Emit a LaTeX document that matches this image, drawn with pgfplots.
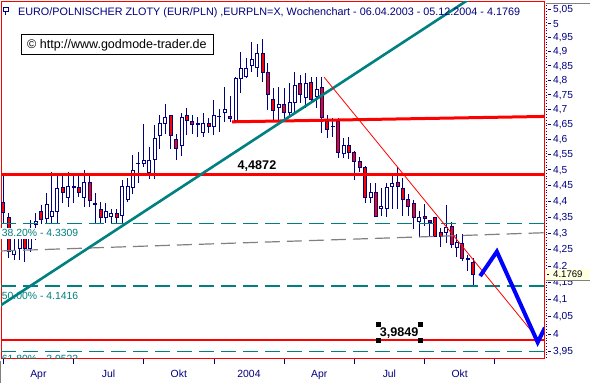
\documentclass[border=0pt]{standalone}
\usepackage{pgfplots}
\usepackage{pgfplotstable}
\pgfplotsset{compat=1.18}
\usepackage{fontspec}
\setmainfont{Liberation Sans}
\definecolor{navy}{HTML}{000080}
\definecolor{tealc}{HTML}{008080}
\definecolor{redc}{HTML}{FF0000}
\definecolor{bluec}{HTML}{0000FF}
\definecolor{grayc}{HTML}{808080}
\definecolor{tipbg}{HTML}{FFFFE1}
\newcommand\fs[1]{\fontsize{#1}{#1}\selectfont}
\newcommand\tk{\rule[0.3em]{3bp}{0.8bp}\hspace{2bp}}

\pgfplotstableread{
i o h l c
0 4.399 4.486 4.334 4.365
1 4.352 4.365 4.226 4.244
2 4.235 4.287 4.220 4.250
3 4.256 4.290 4.220 4.284
4 4.284 4.290 4.214 4.256
5 4.256 4.343 4.244 4.284
6 4.330 4.365 4.281 4.337
7 4.368 4.390 4.330 4.343
8 4.346 4.428 4.330 4.390
9 4.355 4.495 4.330 4.368
10 4.368 4.492 4.330 4.441
11 4.444 4.492 4.396 4.428
12 4.415 4.495 4.384 4.447
13 4.444 4.492 4.396 4.447
14 4.444 4.486 4.415 4.428
15 4.415 4.502 4.384 4.460
16 4.460 4.492 4.384 4.403
17 4.396 4.428 4.334 4.390
18 4.377 4.399 4.334 4.349
19 4.352 4.396 4.334 4.368
20 4.355 4.377 4.334 4.362
21 4.362 4.377 4.334 4.349
22 4.358 4.469 4.330 4.447
23 4.406 4.476 4.399 4.450
24 4.444 4.550 4.425 4.499
25 4.521 4.560 4.460 4.524
26 4.524 4.653 4.511 4.531
27 4.492 4.577 4.473 4.534
28 4.537 4.650 4.473 4.603
29 4.616 4.683 4.570 4.656
30 4.656 4.720 4.620 4.673
31 4.680 4.683 4.570 4.616
32 4.600 4.620 4.534 4.573
33 4.583 4.690 4.547 4.673
34 4.680 4.707 4.616 4.663
35 4.660 4.683 4.620 4.650
36 4.650 4.677 4.610 4.656
37 4.623 4.690 4.610 4.653
38 4.656 4.673 4.623 4.643
39 4.643 4.734 4.616 4.680
40 4.678 4.703 4.626 4.679
41 4.690 4.778 4.660 4.703
42 4.677 4.748 4.660 4.670
43 4.666 4.813 4.663 4.806
44 4.806 4.900 4.758 4.844
45 4.813 4.879 4.809 4.844
46 4.854 4.935 4.830 4.872
47 4.847 4.928 4.813 4.896
48 4.896 4.946 4.795 4.830
49 4.830 4.861 4.700 4.754
50 4.734 4.775 4.666 4.697
51 4.710 4.778 4.666 4.720
52 4.717 4.775 4.666 4.693
53 4.693 4.792 4.673 4.724
54 4.724 4.830 4.693 4.785
55 4.789 4.820 4.724 4.754
56 4.741 4.827 4.707 4.789
57 4.795 4.813 4.724 4.737
58 4.744 4.813 4.707 4.771
59 4.775 4.813 4.623 4.673
60 4.660 4.683 4.606 4.636
61 4.643 4.673 4.610 4.646
62 4.660 4.673 4.541 4.560
63 4.554 4.606 4.541 4.583
64 4.583 4.610 4.537 4.560
65 4.560 4.564 4.469 4.528
66 4.528 4.544 4.495 4.511
67 4.511 4.515 4.396 4.415
68 4.415 4.460 4.396 4.428
69 4.431 4.460 4.352 4.355
70 4.380 4.445 4.355 4.384
71 4.380 4.460 4.352 4.444
72 4.450 4.486 4.377 4.457
73 4.460 4.511 4.377 4.447
74 4.441 4.476 4.355 4.406
75 4.406 4.425 4.355 4.384
76 4.393 4.406 4.315 4.349
77 4.337 4.371 4.290 4.352
78 4.355 4.393 4.324 4.346
79 4.340 4.343 4.290 4.334
80 4.349 4.352 4.290 4.293
81 4.303 4.318 4.259 4.290
82 4.303 4.390 4.272 4.318
83 4.321 4.337 4.256 4.266
84 4.259 4.299 4.229 4.272
85 4.269 4.299 4.217 4.223
86 4.223 4.235 4.187 4.220
87 4.211 4.226 4.145 4.1769
}\candles

\pgfplotstablegetrowsof{\candles}
\pgfmathtruncatemacro\nlast{\pgfplotsretval-1}

\begin{document}
\begin{tikzpicture}
\fill[white] (0,0) rectangle (590bp,383bp);
\useasboundingbox (0,0) rectangle (590bp,383bp);
\begin{axis}[
  at={(1bp,24bp)}, anchor=south west,
  width=543bp, height=357bp, scale only axis,
  xmin=-0.426, xmax=100.13,
  ymode=log, ymin=3.9302, ymax=5.0791,
  axis line style={redc, line width=1bp},
  xtick={0,13,26,39,52,65,78,91}, xticklabels={},
  xtick pos=bottom, xtick align=outside,
  xtick style={navy, line width=0.8bp},
  major tick length=5bp,
  extra x ticks={6.5,19.5,32.5,45.5,58.5,71.5,84.5},
  extra x tick labels={Apr,Jul,Okt,2004,Apr,Jul,Okt},
  extra x tick style={major tick length=0pt,
    xticklabel style={anchor=base, yshift=-19bp, inner sep=0pt, text=navy, font=\fs{10.4bp}}},
  ytick={3.95,4,4.05,4.1,4.15,4.2,4.25,4.3,4.35,4.4,4.45,4.5,4.55,4.6,4.65,4.7,4.75,4.8,4.85,4.9,4.95,5,5.05},
  yticklabels={{\tk 3,95},{\tk 4},{\tk 4,05},{\tk 4,1},{\tk 4,15},{\tk 4,2},{\tk 4,25},{\tk 4,3},{\tk 4,35},{\tk 4,4},{\tk 4,45},{\tk 4,5},{\tk 4,55},{\tk 4,6},{\tk 4,65},{\tk 4,7},{\tk 4,75},{\tk 4,8},{\tk 4,85},{\tk 4,9},{\tk 4,95},{\tk 5},{\tk 5,05}},
  ytick pos=right, ytick align=inside,
  ytick style={draw=none},
  yminorticks=false, minor tick num=0,
  yticklabel style={anchor=west, inner sep=0pt, xshift=4bp, text=navy, font=\fs{10.2bp}},
]
% candles
\pgfplotsforeachungrouped \k in {0,...,\nlast}{%
  \pgfplotstablegetelem{\k}{i}\of\candles \let\cI\pgfplotsretval
  \pgfplotstablegetelem{\k}{o}\of\candles \let\cO\pgfplotsretval
  \pgfplotstablegetelem{\k}{h}\of\candles \let\cH\pgfplotsretval
  \pgfplotstablegetelem{\k}{l}\of\candles \let\cL\pgfplotsretval
  \pgfplotstablegetelem{\k}{c}\of\candles \let\cC\pgfplotsretval
  \pgfmathsetmacro\xa{\cI-0.28}%
  \pgfmathsetmacro\xb{\cI+0.28}%
  \ifdim\cC pt<\cO pt \def\fc{redc}\else\def\fc{white}\fi
  \edef\temp{%
    \noexpand\addplot[navy, line width=1bp, forget plot] coordinates {(\cI,\cL) (\cI,\cH)};%
    \noexpand\addplot[draw=navy, fill=\fc, line width=0.9bp, forget plot] coordinates {(\xa,\cO) (\xb,\cO) (\xb,\cC) (\xa,\cC)} -- cycle;%
  }%
  \temp
}
% gray dashed
\addplot[grayc, line width=1.2bp, dash pattern=on 15bp off 7bp, forget plot] coordinates {(-0.426,4.247) (100.13,4.303)};
% fibonacci levels
\addplot[tealc, line width=1.3bp, dash pattern=on 15bp off 7bp, forget plot] coordinates {(-0.426,4.3309) (100.13,4.3309)};
\addplot[tealc, line width=1.3bp, dash pattern=on 15bp off 7bp, forget plot] coordinates {(-0.426,4.1416) (100.13,4.1416)};
\addplot[tealc, line width=1.3bp, dash pattern=on 15bp off 7bp, forget plot] coordinates {(-0.426,3.9523) (100.13,3.9523)};
\node[anchor=base west, text=tealc, fill=white, inner sep=1.5bp, font=\fs{10.4bp}] at (axis cs:-0.574,4.290) {38.20\% - 4.3309};
\node[anchor=base west, text=tealc, inner sep=1.5bp, font=\fs{10.4bp}] at (axis cs:-0.574,4.100) {50.00\% - 4.1416};
\node[anchor=base west, text=tealc, inner sep=1.5bp, font=\fs{10.4bp}] at (axis cs:-0.574,3.9204) {61.80\% - 3.9523};
% horizontal red lines
\addplot[redc, line width=3bp, forget plot] coordinates {(-0.426,4.4872) (100.13,4.4872)};
\addplot[redc, line width=3bp, forget plot] coordinates {(42.35,4.660) (100.13,4.678)};
\addplot[redc, line width=2bp, forget plot] coordinates {(-0.426,3.9849) (100.13,3.9849)};
% trend lines
\addplot[tealc, line width=2.6bp, forget plot] coordinates {(-0.5,4.084) (90,5.138)};
\addplot[redc, line width=0.8bp, forget plot] coordinates {(59.4,4.812) (98.8,3.991)};
% forecast zigzag
\addplot[bluec, line width=4bp, miter limit=4, forget plot] coordinates {(88.3,4.171) (91.4,4.245) (98.96,3.978) (100.3,4.019)};
% labels
\node[anchor=base, inner sep=0pt, font=\bfseries\fs{12.6bp}] at (axis cs:46.98,4.502) {4,4872};
\node[anchor=base, inner sep=0pt, font=\bfseries\fs{12.6bp}] at (axis cs:73.3,3.993) {3,9849};
\addplot[only marks, mark=square*, mark size=2bp, mark options={draw=black, fill=black}, forget plot] coordinates {(69.4,4.030) (77.2,4.030) (69.4,3.985) (77.2,3.985)};
\end{axis}
% title, copyright box, price tag
\draw[navy, line width=0.9bp] (3bp,372bp) rectangle (8bp,376bp);
\draw[navy, line width=0.9bp] (5.5bp,368bp) -- (5.5bp,372bp);
\node[anchor=base west, inner sep=0pt, text=navy, font=\fs{10.8bp}] at (18bp,367.7bp) {EURO/POLNISCHER ZLOTY (EUR/PLN) ,EURPLN=X, Wochenchart - 06.04.2003 - 05.12.2004 - 4.1769};
\draw[black, fill=white, line width=1bp] (21.7bp,348bp) rectangle (213bp,328bp);
\node[anchor=base west, inner sep=0pt, font=\fs{12.5bp}] at (27bp,334bp) {© http://www.godmode-trader.de};
\draw[navy, dotted, line width=0.8bp] (546.5bp,25bp) -- (546.5bp,381bp);
\fill[tipbg] (546bp,102.5bp) rectangle (590bp,114bp);
\draw[grayc, line width=0.8bp] (546bp,102.5bp) -- (590bp,102.5bp);
\node[anchor=west, inner sep=0pt, font=\fs{9.6bp}] at (547bp,108.4bp) {\rule[0.3em]{2bp}{0.8bp}\hspace{4bp}4.1769};
\draw[grayc, line width=0.8bp] (546bp,380bp) -- (590bp,380bp);
\draw[grayc, line width=0.8bp] (0.4bp,0bp) -- (0.4bp,22bp);
\end{tikzpicture}
\end{document}
